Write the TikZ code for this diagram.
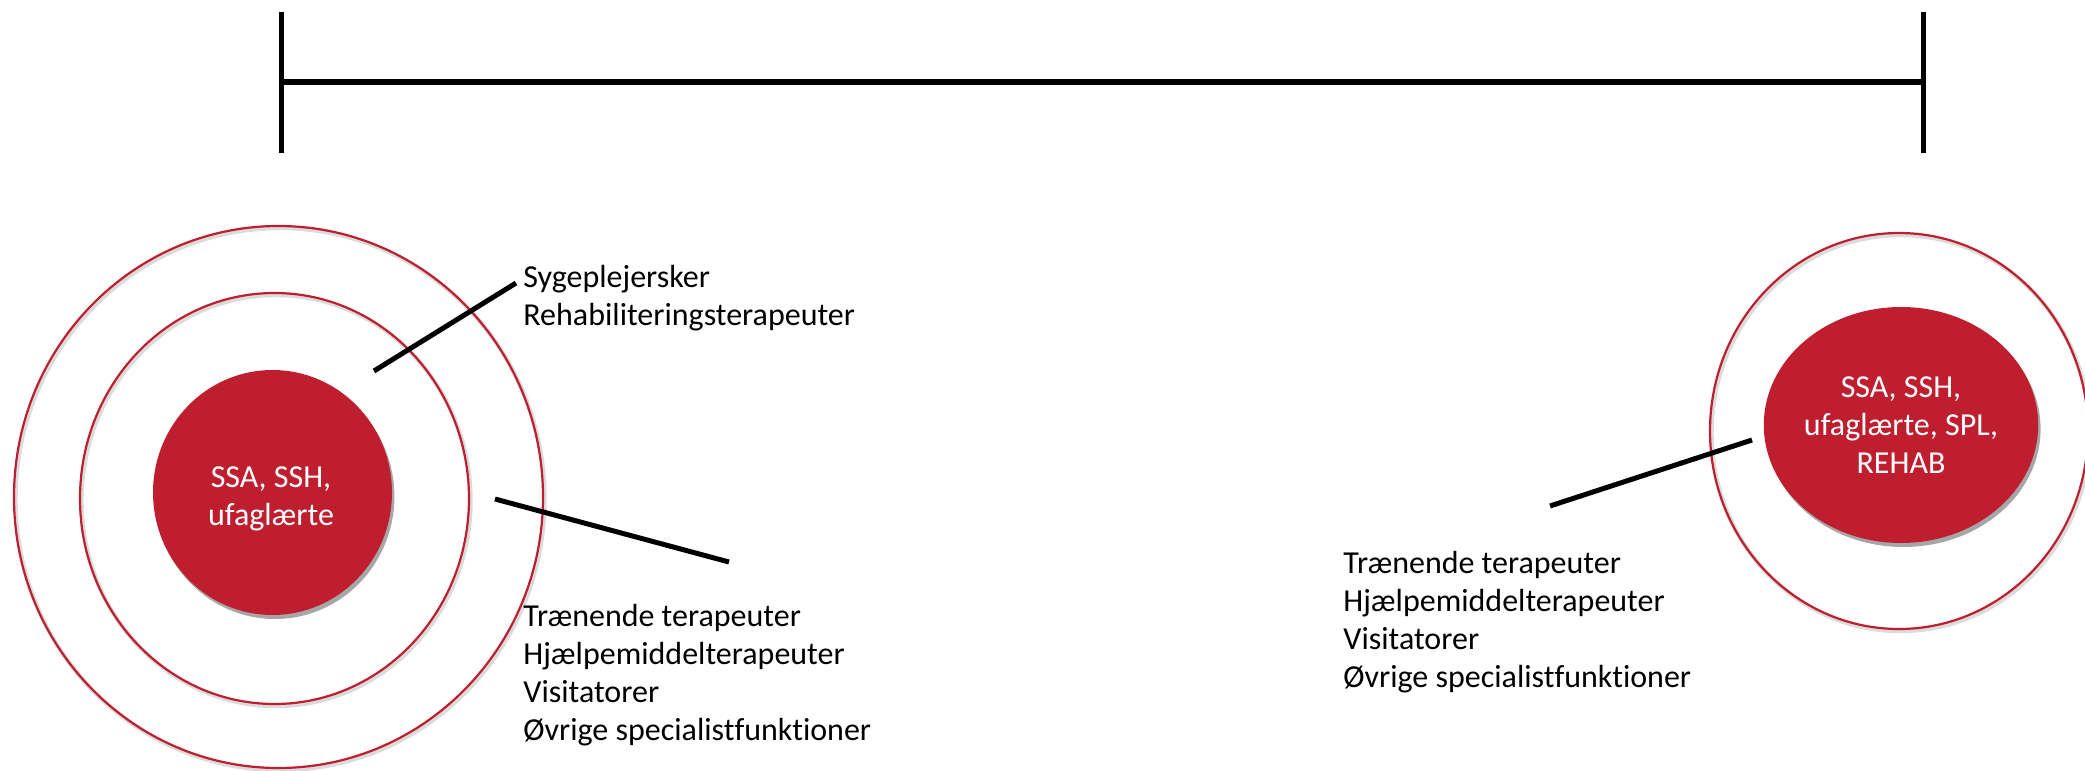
\documentclass[tikz,border=0pt]{standalone}
\usepackage{fontspec}
\setmainfont{Carlito}[Ligatures={NoCommon}]
\usetikzlibrary{shapes.geometric,shadows}
\definecolor{ringred}{RGB}{190,30,46}
\begin{document}
\begin{tikzpicture}[x=0.5pt,y=-0.5pt,
  bar/.style={line width=2.8pt},
  leader/.style={line width=2.5pt},
  ring/.style={ellipse,draw=ringred,line width=1.1pt,inner sep=0pt},
  ringshadow/.style={ellipse,draw=black!14,line width=2.2pt,inner sep=0pt},
  coretext/.style={inner sep=0pt,text=white,align=center,
    font=\fontsize{16}{19}\selectfont},
  core/.style={ellipse,fill=ringred,coretext,
    drop shadow={shadow xshift=1.2pt,shadow yshift=-2pt,opacity=0.35,fill=black}},
  label/.style={anchor=base west,align=left,inner sep=0pt,
    font=\fontsize{16}{18.9}\selectfont}]
\useasboundingbox (0,0) rectangle (2085,771);
% top bar
\coordinate (bl1) at (281.5,12);
\coordinate (bl2) at (281.5,153);
\coordinate (br1) at (1923.5,12);
\coordinate (br2) at (1923.5,153);
\coordinate (hl) at (281.5,82);
\coordinate (hr) at (1923.5,82);
\draw[bar] (bl1) -- (bl2);
\draw[bar] (br1) -- (br2);
\draw[bar] (hl) -- (hr);
% left rings
\node[ringshadow,minimum width=264.5pt,minimum height=271pt] (losh) at (280,499) {};
\node[ring,minimum width=264.5pt,minimum height=271pt] (louter) at (278.5,497) {};
\node[ringshadow,minimum width=194.5pt,minimum height=205.5pt] (lish) at (276,500.5) {};
\node[ring,minimum width=194.5pt,minimum height=205.5pt] (linner) at (274.5,498.5) {};
\node[core,minimum width=119.5pt,minimum height=122.5pt] (lcore) at (272.5,492.5) {};
\node[coretext] (lcoretext) at (271,499) {SSA, SSH,\\ufaglærte};
% right rings
\node[ringshadow,minimum width=189pt,minimum height=198pt] (rsh) at (1900.5,433) {};
\node[ring,minimum width=189pt,minimum height=198pt] (rring) at (1899,431) {};
\node[core,minimum width=119pt,minimum height=118pt] (rcore) at (1901,425) {SSA, SSH,\\ufaglærte, SPL,\\REHAB};
% labels (base anchor = last line's baseline)
\node[label] (ltop) at (523,325) {Sygeplejersker\\Rehabiliteringsterapeuter};
\node[label] (lbot) at (523,740) {Trænende terapeuter\\Hjælpemiddelterapeuter\\Visitatorer\\Øvrige specialistfunktioner};
\node[label] (rlab) at (1343,687) {Trænende terapeuter\\Hjælpemiddelterapeuter\\Visitatorer\\Øvrige specialistfunktioner};
% leaders
\coordinate (a1) at (374,371);
\coordinate (a2) at (516,283);
\coordinate (b1) at (495,499);
\coordinate (b2) at (729,562);
\coordinate (c1) at (1550,506);
\coordinate (c2) at (1752,440);
\draw[leader] (a1) -- (a2);
\draw[leader] (b1) -- (b2);
\draw[leader] (c1) -- (c2);
\end{tikzpicture}
\end{document}
